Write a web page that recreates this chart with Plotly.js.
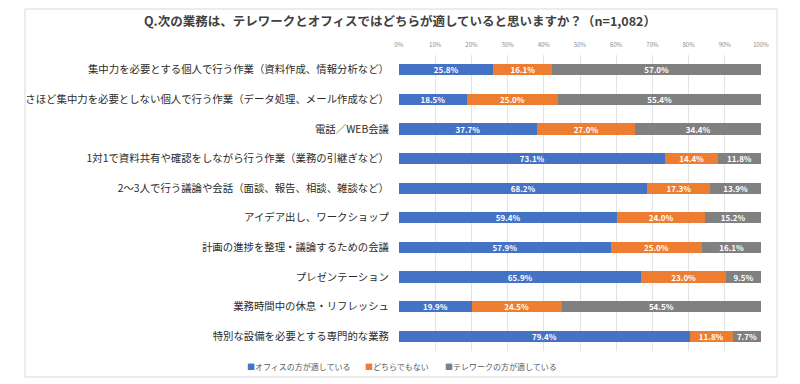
<!DOCTYPE html>
<html>
<head>
<meta charset="utf-8">
<script src="https://cdn.plot.ly/plotly-3.0.1.min.js"></script>
<style>
html,body{margin:0;padding:0;background:#fff;}
#chart{width:800px;height:384px;}
</style>
</head>
<body>
<div id="chart"></div>
<script>
const categories = [
  "集中力を必要とする個人で行う作業（資料作成、情報分析など）",
  "さほど集中力を必要としない個人で行う作業（データ処理、メール作成など）",
  "電話／WEB会議",
  "1対1で資料共有や確認をしながら行う作業（業務の引継ぎなど）",
  "2～3人で行う議論や会話（面談、報告、相談、雑談など）",
  "アイデア出し、ワークショップ",
  "計画の進捗を整理・議論するための会議",
  "プレゼンテーション",
  "業務時間中の休息・リフレッシュ",
  "特別な設備を必要とする専門的な業務"
];
const officeVals   = [25.8, 18.5, 37.7, 73.1, 68.2, 59.4, 57.9, 65.9, 19.9, 79.4];
const neitherVals  = [16.1, 25.0, 27.0, 14.4, 17.3, 24.0, 25.0, 23.0, 24.5, 11.8];
const teleworkVals = [57.0, 55.4, 34.4, 11.8, 13.9, 15.2, 16.1, 9.5, 54.5, 7.7];
const seriesNames = ["オフィスの方が適している", "どちらでもない", "テレワークの方が適している"];
const titleText = "Q.次の業務は、テレワークとオフィスではどちらが適していると思いますか？（n=1,082）";

const colors = ["#4472C4", "#ED7D31", "#808080"];
const font = "Noto Sans CJK JP, Noto Sans, sans-serif";

// plot area in pixels
const PL = 399, PR = 761, PT = 55, PB = 351;
const px2x = p => (p - PL) / (PR - PL);
const px2y = p => (PB - p) / (PB - PT);

function mk(vals, i) {
  return {
    type: "bar",
    orientation: "h",
    name: seriesNames[i],
    y: categories,
    x: vals,
    text: vals.map(v => v.toFixed(1) + "%"),
    texttemplate: "%{text}",
    textposition: "inside",
    insidetextanchor: "middle",
    constraintext: "none",
    textangle: 0,
    textfont: {family: font, size: 8, color: "#ffffff", weight: "bold"},
    marker: {color: colors[i], line: {width: 0}},
    showlegend: false,
    hoverinfo: "name+text+y"
  };
}

const data = [mk(officeVals, 0), mk(neitherVals, 1), mk(teleworkVals, 2)];

const legendX = [245, 363, 443];
const annotations = seriesNames.map((n, i) => ({
  xref: "paper", yref: "paper",
  x: px2x(legendX[i]), y: px2y(366),
  xanchor: "left", yanchor: "middle",
  showarrow: false,
  text: "<span style='color:" + colors[i] + "'>■</span>" + n,
  font: {family: font, size: 8, color: "#595959"}
}));

const layout = {
  width: 800, height: 384,
  margin: {l: PL, r: 800 - PR, t: PT, b: 384 - PB, pad: 0},
  paper_bgcolor: "#ffffff",
  plot_bgcolor: "#ffffff",
  barmode: "stack",
  barnorm: "percent",
  bargap: 0.62,
  font: {family: font, color: "#404040"},
  title: {
    text: titleText,
    font: {family: font, size: 12.5, color: "#404040", weight: "bold"},
    x: 0.5, xref: "container", xanchor: "center",
    y: 1 - 22/384, yref: "container", yanchor: "middle"
  },
  xaxis: {
    side: "top",
    range: [0, 100],
    dtick: 10,
    tick0: 0,
    ticksuffix: "%",
    tickfont: {family: font, size: 6, color: "#8a8a8a"},
    ticklabelstandoff: 6,
    showgrid: true,
    gridcolor: "#e3e3e3",
    gridwidth: 1,
    zeroline: false,
    showline: false,
    ticks: "",
    ticklen: 0,
    fixedrange: true
  },
  yaxis: {
    autorange: "reversed",
    type: "category",
    tickfont: {family: font, size: 10.4, color: "#2b2b2b"},
    showgrid: false,
    zeroline: false,
    showline: false,
    ticks: "",
    ticklabelstandoff: 9,
    fixedrange: true
  },
  showlegend: false,
  annotations: annotations,
  shapes: [{
    type: "rect",
    xref: "paper", yref: "paper",
    x0: px2x(25), x1: px2x(777),
    y0: px2y(377), y1: px2y(9),
    line: {color: "#d9d9d9", width: 1},
    fillcolor: "rgba(0,0,0,0)",
    layer: "below"
  }]
};

Plotly.newPlot("chart", data, layout, {displayModeBar: false, staticPlot: true});
</script>
</body>
</html>
